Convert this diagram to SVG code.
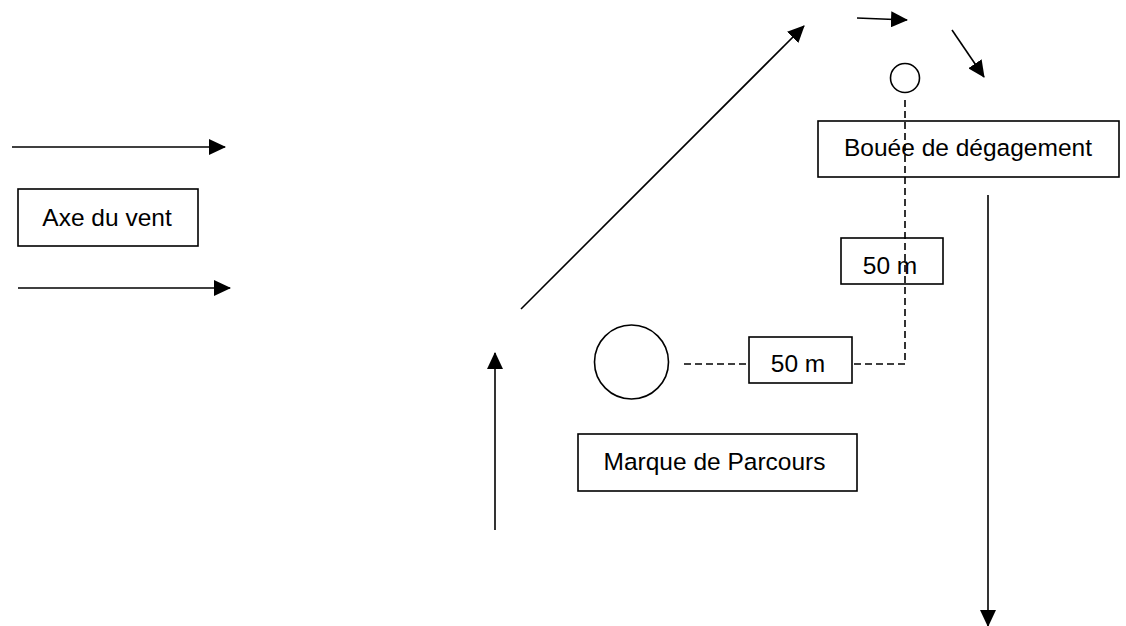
<svg xmlns="http://www.w3.org/2000/svg" width="1126" height="626" viewBox="0 0 1126 626">
<defs>
<style>
.box{fill:#fff;stroke:#000;stroke-width:1.6}
.lbl{font-family:"Liberation Sans",Arial,sans-serif;font-size:24.5px;fill:#000}
.arr{stroke:#000;stroke-width:1.6;fill:none;marker-end:url(#ah)}
.dash{stroke:#000;stroke-width:1.6;fill:none;stroke-dasharray:7 4}
.buoy{fill:#fff;stroke:#000;stroke-width:1.6}
</style>
<marker id="ah" markerUnits="userSpaceOnUse" markerWidth="17" markerHeight="16" viewBox="0 0 17 16" refX="16" refY="8" orient="auto">
<path d="M0,0 L17,8 L0,16 Z" fill="#000"/>
</marker>
</defs>
<rect width="1126" height="626" fill="#fff"/>
<g id="connectors">
<line class="arr" x1="12" y1="147" x2="225" y2="147"/>
<line class="arr" x1="18" y1="288" x2="230" y2="288"/>
<line class="arr" x1="495" y1="530" x2="495" y2="353"/>
<line class="arr" x1="521" y1="309" x2="804" y2="26"/>
<line class="arr" x1="857" y1="18" x2="907" y2="20"/>
<line class="arr" x1="952" y1="30" x2="984" y2="77"/>
<line class="arr" x1="988" y1="195" x2="988" y2="626"/>
<polyline class="dash" points="905,100 905,364 852,364"/>
<line class="dash" x1="684" y1="364" x2="749" y2="364"/>
</g>
<g id="buoy-small"><circle class="buoy" cx="905" cy="78" r="14.5" fill="none" style="fill:none"/></g>
<g id="buoy-large"><circle class="buoy" cx="631.5" cy="362" r="37"/></g>
<g id="axe-du-vent">
<rect class="box" x="18" y="189" width="180" height="57"/>
<text class="lbl" x="107" y="226" text-anchor="middle">Axe du vent</text>
</g>
<g id="bouee">
<rect class="box" x="818" y="121" width="301" height="56" style="fill:none"/>
<text class="lbl" x="968" y="156" text-anchor="middle">Bouée de dégagement</text>
</g>
<g id="dist-vertical">
<rect class="box" x="841" y="238" width="102" height="46" style="fill:none"/>
<text class="lbl" x="890" y="274" text-anchor="middle">50 m</text>
</g>
<g id="dist-horizontal">
<rect class="box" x="749" y="337" width="103" height="46"/>
<text class="lbl" x="798" y="372" text-anchor="middle">50 m</text>
</g>
<g id="marque">
<rect class="box" x="578" y="434" width="279" height="57"/>
<text class="lbl" x="714.5" y="470" text-anchor="middle">Marque de Parcours</text>
</g>
</svg>
